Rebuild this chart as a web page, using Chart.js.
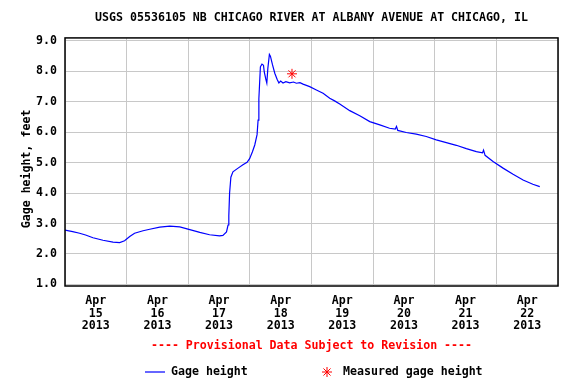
<!DOCTYPE html>
<html>
<head>
<meta charset="utf-8">
<script src="https://cdn.jsdelivr.net/npm/chart.js@4/dist/chart.umd.min.js"></script>
<style>
  html, body { margin: 0; padding: 0; background: #fff; }
  #wrap { width: 576px; height: 384px; }
</style>
</head>
<body>
<div id="wrap"><canvas id="myChart"></canvas></div>
<script>
// hours since Apr 15 2013 00:00, gage height in feet
const hours = [0, 3, 5.7, 8, 10.9, 14.8, 18.7, 21.3, 23.2, 25.2, 27.1, 30.4, 33, 36.9, 40.8, 44.7,
  48.6, 52.5, 56.3, 60.2, 61.5, 62.9, 63.5, 63.8, 64.1, 64.6, 65.4, 67.4, 69.3, 70.9, 71.9, 73.0,
  73.9, 74.8, 75.2, 75.5, 76.1, 76.7, 77.3, 77.6, 78.2, 78.6, 79.0, 79.6, 80.0, 80.8, 81.7, 82.6,
  83.3, 84.0, 84.9, 86.0, 87.5, 89, 90.1, 91.5, 92.7, 94, 95.3, 97.9, 100.5, 103.1, 105, 107.0,
  110.9, 114.8, 118.7, 122.6, 126.4, 128.6, 129.1, 129.6, 132.9, 136.8, 140.7, 144.6, 148.5, 152.4,
  156.3, 160.2, 162.6, 163.0, 163.6, 166.7, 170.6, 174.5, 178.4, 182.2, 184.9]
const gage = [2.78, 2.73, 2.68, 2.62, 2.53, 2.45, 2.39, 2.37, 2.43, 2.57, 2.68, 2.76, 2.81, 2.88, 2.91, 2.89,
  2.80, 2.71, 2.63, 2.59, 2.61, 2.72, 2.95, 3.25, 4.0, 4.52, 4.70, 4.82, 4.93, 5.01, 5.13, 5.36,
  5.58, 5.92, 6.40, 7.10, 8.15, 8.24, 8.20, 7.98, 7.75, 7.62, 8.10, 8.56, 8.50, 8.22, 7.94, 7.74,
  7.62, 7.68, 7.62, 7.66, 7.62, 7.65, 7.61, 7.63, 7.58, 7.54, 7.50, 7.39, 7.28, 7.12, 7.03, 6.93,
  6.71, 6.54, 6.35, 6.24, 6.13, 6.10, 6.19, 6.06, 5.99, 5.94, 5.86, 5.75, 5.66, 5.57,
  5.46, 5.36, 5.32, 5.41, 5.24, 5.04, 4.82, 4.62, 4.43, 4.29, 4.21]

const measuredHours = [88.4]
const measuredGage = [7.92]

const monthLabel = 'Apr'
const yearLabel = '2013'
const dayLabels = ['15', '16', '17', '18', '19', '20', '21', '22']
const yTicks = [1, 2, 3, 4, 5, 6, 7, 8, 9]

const titleText = 'USGS 05536105 NB CHICAGO RIVER AT ALBANY AVENUE AT CHICAGO, IL'
const noteText = '---- Provisional Data Subject to Revision ----'

const FONT = 'DejaVu Sans Mono'
const font = { family: FONT, size: 11.6, weight: 'bold' }

const framePlugin = {
  id: 'frame',
  afterDatasetsDraw(chart) {
    const { ctx, chartArea: a } = chart
    ctx.save()
    ctx.strokeStyle = '#000'
    ctx.lineWidth = 1.5
    ctx.strokeRect(a.left, a.top, a.right - a.left, a.bottom - a.top)
    ctx.restore()
  },
  afterDraw(chart) {
    const { ctx, chartArea: a } = chart
    ctx.save()
    ctx.font = 'bold 11.6px "' + FONT + '"'
    ctx.textBaseline = 'middle'
    // provisional note
    ctx.fillStyle = '#ff0000'
    ctx.textAlign = 'center'
    ctx.fillText(noteText, (a.left + a.right) / 2, 346)
    // legend
    ctx.textAlign = 'left'
    ctx.strokeStyle = '#0000ff'
    ctx.lineWidth = 1.2
    ctx.beginPath()
    ctx.moveTo(145, 372)
    ctx.lineTo(165, 372)
    ctx.stroke()
    ctx.fillStyle = '#000'
    ctx.fillText('Gage height', 171, 372)
    ctx.strokeStyle = '#ff0000'
    ctx.lineWidth = 1
    Chart.helpers.drawPoint(ctx, { pointStyle: 'star', radius: 5, borderWidth: 1 }, 327, 372)
    ctx.fillText('Measured gage height', 343, 372)
    ctx.restore()
  }
}

const ctx = document.getElementById('myChart').getContext('2d')
const myChart = new Chart(ctx, {
  type: 'line',
  data: {
    datasets: [{
      label: 'Gage height',
      data: hours.map((h, i) => ({ x: h, y: gage[i] })),
      borderColor: '#0000ff',
      borderWidth: 1.2,
      pointRadius: 0,
      fill: false,
      tension: 0
    }, {
      label: 'Measured gage height',
      type: 'scatter',
      data: measuredHours.map((h, i) => ({ x: h, y: measuredGage[i] })),
      pointStyle: 'star',
      pointRadius: 5,
      borderColor: '#ff0000',
      backgroundColor: '#ff0000',
      borderWidth: 1
    }]
  },
  options: {
    responsive: true,
    maintainAspectRatio: false,
    animation: false,
    layout: { padding: { left: 0, right: 18, top: 0, bottom: 48 } },
    plugins: {
      legend: { display: false },
      tooltip: { enabled: false },
      title: {
        display: true,
        text: titleText,
        fullSize: false,
        color: '#000',
        font: font,
        padding: { top: 11, bottom: 13 }
      }
    },
    scales: {
      x: {
        type: 'linear',
        min: 0,
        max: 192,
        afterBuildTicks: (scale) => {
          const t = []
          for (let v = 0; v <= 192; v += 12) t.push({ value: v })
          scale.ticks = t
        },
        afterFit: (scale) => { scale.height = 50 },
        grid: {
          drawTicks: false,
          lineWidth: 1,
          color: (c) => (c.tick && c.tick.value % 24 === 0) ? '#c8c8c8' : 'rgba(0,0,0,0)'
        },
        border: { display: false },
        ticks: {
          autoSkip: false,
          maxRotation: 0,
          padding: 9,
          color: '#000',
          font: Object.assign({ lineHeight: 1.08 }, font),
          callback: (v) => {
            if (v % 24 !== 12) return ''
            return [monthLabel, dayLabels[(v - 12) / 24], yearLabel]
          }
        }
      },
      y: {
        min: 0.945,
        max: 9.1,
        afterBuildTicks: (scale) => {
          scale.ticks = yTicks.map(v => ({ value: v }))
        },
        afterFit: (scale) => { scale.width = 65 },
        grid: { drawTicks: false, color: '#c8c8c8', lineWidth: 1 },
        border: { display: false },
        ticks: {
          padding: 8,
          color: '#000',
          font: font,
          callback: (v) => Number(v).toFixed(1)
        },
        title: {
          display: true,
          text: 'Gage height, feet  ',
          color: '#000',
          font: font,
          padding: { top: 20, bottom: 0 }
        }
      }
    }
  },
  plugins: [framePlugin]
})
</script>
</body>
</html>
